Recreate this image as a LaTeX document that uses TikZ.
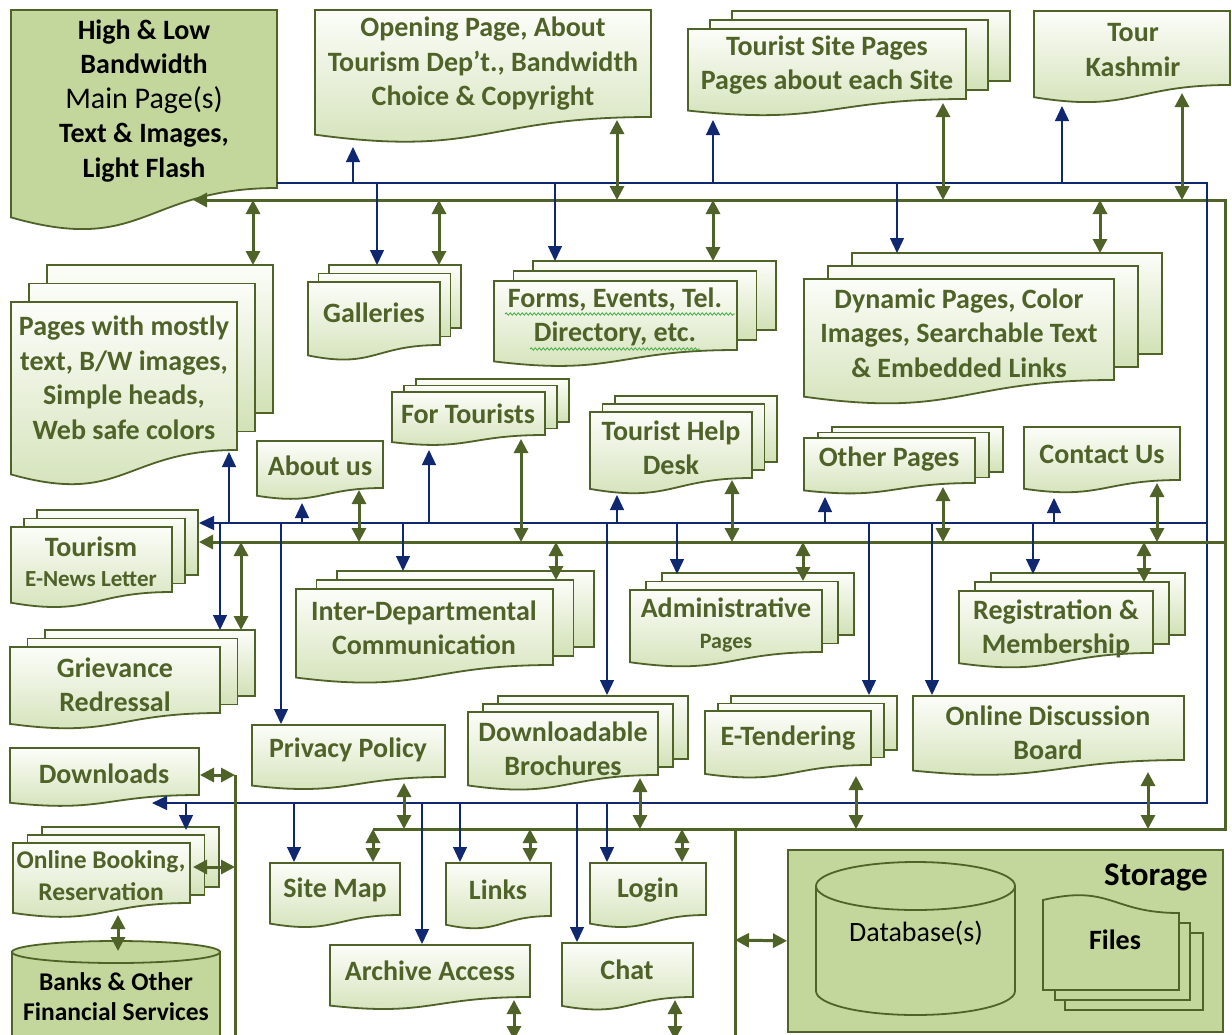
\documentclass[tikz,border=0pt]{standalone}
\usepackage{fontspec}
\setmainfont{Carlito}
\usetikzlibrary{arrows.meta,decorations.pathmorphing}

\definecolor{leaf}{RGB}{79,98,40}
\definecolor{linkblue}{RGB}{16,40,112}
\definecolor{pagetop}{RGB}{252,253,249}
\definecolor{pagebot}{RGB}{210,225,182}
\definecolor{mainfill}{RGB}{195,214,155}
\definecolor{squiggle}{RGB}{70,170,70}

\tikzset{
  navyhead/.tip={Triangle[length=15pt,width=14pt]},
  leafhead/.tip={Triangle[length=14pt,width=14pt]},
  docfill/.style={draw=leaf, line width=1.8pt, top color=pagetop, bottom color=pagebot},
  solidfill/.style={draw=leaf, line width=1.8pt, fill=mainfill},
  lbl/.style={text=leaf, font=\bfseries\fontsize{28}{34.5}\selectfont, align=center, inner sep=0pt},
  bluebus/.style={draw=linkblue, line width=1.3pt},
  greenbus/.style={draw=leaf, line width=3pt},
  toblue/.style={bluebus, -navyhead},
  togreen/.style={greenbus, leafhead-leafhead},
  squig/.style={draw=squiggle, line width=0.8pt, decorate, decoration={snake, amplitude=1.2pt, segment length=4pt}}
}

% one page with a wavy lower edge: [style]{x1}{y1}{x2}{y2 at right}
\newcommand{\onedoc}[5][docfill]{%
  \path[#1] (#2,#3) -- (#4,#3) -- (#4,#5)
    .. controls ({(#2+#4)/2},#5) and ({(#2+#4)/2},{#3+1.38*(#5-#3)})
    .. (#2,{#3+1.165*(#5-#3)}) -- cycle;}
% three pages stacked: {x1}{y1}{x2}{y2}{dx}{dy}
\newcommand{\pile}[6]{%
  \path[docfill] ({#1+2*#5},{#2-2*#6}) rectangle ({#3+2*#5},{#4-2*#6});
  \path[docfill] ({#1+#5},{#2-#6}) rectangle ({#3+#5},{#4-#6});
  \onedoc{#1}{#2}{#3}{#4}}

\begin{document}
\begin{tikzpicture}[x=1pt,y=-1pt]
\useasboundingbox[fill=white] (0,0) rectangle (1232,1034);

% top row
\onedoc[solidfill]{11}{10}{277}{188}
\node[lbl,text=black] (main) at (144,101) {High \& Low\\Bandwidth\\{\mdseries\fontsize{30}{34.5}\selectfont Main Page(s)}\\Text \& Images,\\Light Flash};
\onedoc{315}{10}{651}{117}
\node[lbl] (open) at (483,64) {Opening Page, About\\Tourism Dep't., Bandwidth\\Choice \& Copyright};
\pile{688}{29}{966}{99}{22}{9}
\node[lbl] (site) at (827,65) {Tourist Site Pages\\Pages about each Site};
\onedoc{1034}{11}{1230}{85}
\node[lbl] (tour) at (1133,50) {Tour\\Kashmir};

% second row
\pile{11}{302}{237}{450}{18}{18.5}
\node[lbl] (mostly) at (124,378) {Pages with mostly\\text, B/W images,\\Simple heads,\\Web safe colors};
\pile{308}{282}{440}{345}{10.5}{8.5}
\node[lbl] (gallery) at (374,313) {Galleries};
\pile{494}{281}{737}{350}{19.5}{10}
\node[lbl] (forms) at (615,317) {Forms, Events, Tel.\\Directory, etc.};
\draw[squig] (505,314) -- (735,314);
\draw[squig] (530,349) -- (700,349);
\pile{804}{279}{1114}{380}{24}{13}
\node[lbl] (dynamic) at (959,333) {Dynamic Pages, Color\\Images, Searchable Text\\\& Embedded Links};

% third row
\pile{392}{392}{545}{435}{12}{6.5}
\node[lbl] (tourists) at (468,414) {For Tourists};
\onedoc{257}{441}{383}{488}
\node[lbl] (about) at (320,466) {About us};
\pile{590}{412}{752}{478}{12.5}{8}
\node[lbl] (help) at (671,448) {Tourist Help\\Desk};
\pile{804}{438}{975}{483}{14}{5.5}
\node[lbl] (other) at (889,459) {Other Pages};
\onedoc{1024}{427}{1180}{480}
\node[lbl] (contact) at (1102,454) {Contact Us};

% middle
\pile{11}{527}{172}{592}{13}{8.5}
\node[lbl] (news) at (91,562) {Tourism\\[-4pt]{\fontsize{23}{26}\selectfont E-News Letter}};
\pile{10}{647}{220}{713}{17.5}{8.5}
\node[lbl] (grievance) at (115,685) {Grievance\\Redressal};
\pile{296}{589}{553}{665}{20.5}{9}
\node[lbl] (interdept) at (424,628) {Inter-Departmental\\Communication};
\pile{630}{590}{822}{652}{16}{8.5}
\node[lbl] (admin) at (726,625) {Administrative\\[-4pt]{\fontsize{22}{26}\selectfont Pages}};
\pile{959}{591}{1153}{653}{16}{9}
\node[lbl] (register) at (1056,629) {Registration \&\\Membership};

% lower
\onedoc{252}{725}{445}{777}
\node[lbl] (privacy) at (348,750) {Privacy Policy};
\pile{468}{712}{658}{775}{15}{8}
\node[lbl] (brochure) at (563,749) {Downloadable\\Brochures};
\pile{705}{711}{871}{765}{13}{7.5}
\node[lbl] (tender) at (788,738) {E-Tendering};
\onedoc{913}{696}{1184}{760}
\node[lbl] (forum) at (1048,733) {Online Discussion\\Board};
\onedoc{10}{748}{199}{795}
\node[lbl] (download) at (104,774) {Downloads};
\pile{13}{843}{190}{903}{14.5}{8}
\node[lbl,font=\bfseries\fontsize{25.5}{32}\selectfont] (booking) at (101,876) {Online Booking,\\Reservation};
\onedoc{270}{863}{400}{915}
\node[lbl] (sitemap) at (335,890) {Site Map};
\onedoc{446}{863}{551}{916}
\node[lbl] (links) at (498,890) {Links};
\onedoc{590}{863}{706}{915}
\node[lbl] (login) at (648,890) {Login};
\onedoc{330}{945}{530}{997}
\node[lbl] (archive) at (430,971) {Archive Access};
\onedoc{562}{943}{693}{997}
\node[lbl] (chat) at (627,970) {Chat};

% banks
\path[solidfill] (12,952) rectangle (220,1045);
\path[solidfill] (116,952) ellipse [x radius=104pt, y radius=11pt];
\node[lbl,text=black,font=\bfseries\fontsize{25.5}{30}\selectfont] (banks) at (116,997) {Banks \& Other\\Financial Services};

% storage
\node[solidfill, minimum width=435pt, minimum height=182pt, inner sep=0pt, anchor=north west] (store) at (787,849) {};
\node[lbl,text=black,font=\bfseries\fontsize{33}{38}\selectfont, anchor=east] (storage) at (1208,877) {Storage};
\path[solidfill] (816,886) -- (816,991) arc[start angle=180, end angle=360, x radius=99.5pt, y radius=24pt] -- (1015,886);
\path[solidfill] (915.5,886) ellipse [x radius=99.5pt, y radius=24pt];
\node[lbl,text=black,font=\fontsize{28}{34}\selectfont] (database) at (916,933) {Database(s)};
\path[solidfill] (1065,933) rectangle (1203,1010);
\path[solidfill] (1055,923) rectangle (1190,1000);
\path[solidfill] (1043,990) -- (1179,990) -- (1179,913) .. controls (1111,913) and (1111,884) .. (1043,900) -- cycle;
\node[lbl,text=black] (files) at (1115,940) {Files};

% buses
\draw[greenbus, leafhead-] (193,200) -- (1225,200) -- (1225,829) -- (373,829);
\draw[bluebus, navyhead-] (152,803) -- (1207,803) -- (1207,183) -- (277,183);
\draw[bluebus, navyhead-] (199,523) -- (1207,523);
\draw[greenbus, leafhead-] (199,542) -- (1225,542);
\draw[greenbus] (235,775) -- (235,1040);
\draw[greenbus] (735,829) -- (735,1040);

% top links
\draw[toblue] (353,183) -- (353,147);
\draw[toblue] (713,183) -- (713,120);
\draw[toblue] (1062,183) -- (1062,106);
\draw[toblue] (377,183) -- (377,265);
\draw[toblue] (555,183) -- (555,261);
\draw[toblue] (897,183) -- (897,253);
\draw[togreen] (617,120) -- (617,200);
\draw[togreen] (943,103) -- (943,200);
\draw[togreen] (1182,93) -- (1182,200);
\draw[togreen] (253,200) -- (253,265);
\draw[togreen] (439,200) -- (439,265);
\draw[togreen] (713,200) -- (713,261);
\draw[togreen] (1100,200) -- (1100,253);

% middle links
\draw[toblue] (229,523) -- (229,452);
\draw[toblue] (302,523) -- (302,503);
\draw[toblue] (429,523) -- (429,450);
\draw[toblue] (617,523) -- (617,495);
\draw[toblue] (825,523) -- (825,497);
\draw[toblue] (1054,523) -- (1054,498);
\draw[toblue] (220,523) -- (220,630);
\draw[toblue] (281,523) -- (281,724);
\draw[toblue] (403,523) -- (403,571);
\draw[toblue] (607,523) -- (607,695);
\draw[toblue] (677,523) -- (677,574);
\draw[toblue] (869,523) -- (869,695);
\draw[toblue] (932,523) -- (932,695);
\draw[toblue] (1033,523) -- (1033,574);
\draw[togreen] (359,490) -- (359,542);
\draw[togreen] (521,439) -- (521,542);
\draw[togreen] (732,480) -- (732,542);
\draw[togreen] (943,487) -- (943,542);
\draw[togreen] (1157,483) -- (1157,542);
\draw[togreen] (241,542) -- (241,630);
\draw[togreen] (556,542) -- (556,580);
\draw[togreen] (803,542) -- (803,581);
\draw[togreen] (1144,542) -- (1144,582);

% lower links
\draw[toblue] (186,803) -- (186,830);
\draw[toblue] (294,803) -- (294,862);
\draw[toblue] (422,803) -- (422,944);
\draw[toblue] (460,803) -- (460,862);
\draw[toblue] (577,803) -- (577,942);
\draw[toblue] (607,803) -- (607,862);
\draw[togreen] (200,775) -- (235,775);
\draw[togreen] (193,867) -- (235,867);
\draw[togreen] (118,915) -- (118,951);
\draw[togreen] (404,783) -- (404,829);
\draw[togreen] (640,778) -- (640,829);
\draw[togreen] (856,776) -- (856,829);
\draw[togreen] (1148,772) -- (1148,829);
\draw[togreen] (373,829) -- (373,862);
\draw[togreen] (530,829) -- (530,862);
\draw[togreen] (682,829) -- (682,862);
\draw[togreen] (514,1000) -- (514,1040);
\draw[togreen] (675,1000) -- (675,1040);
\draw[togreen] (735,940) -- (store.west);
\end{tikzpicture}
\end{document}
